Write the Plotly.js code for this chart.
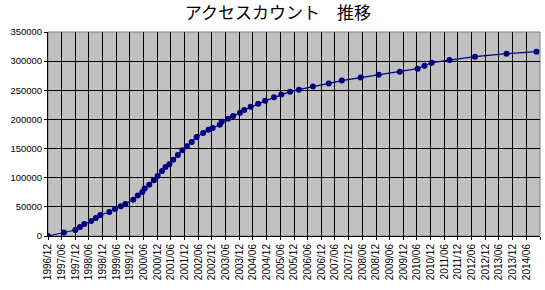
<!DOCTYPE html>
<html>
<head>
<meta charset="utf-8">
<script src="https://cdn.plot.ly/plotly-3.0.1.min.js"></script>
<style>html,body{margin:0;padding:0;background:#fff;}#chart{width:545px;height:290px;}</style>
</head>
<body>
<div id="chart"></div>
<script>
const dates = ["1996-12-01","1997-07-01","1997-12-01","1998-02-01","1998-04-01","1998-07-01","1998-09-01","1998-11-01",
"1999-03-01","1999-05-15","1999-08-01","1999-10-01","2000-01-15","2000-03-15","2000-05-15","2000-06-15","2000-08-15",
"2000-10-15","2000-12-05","2001-02-01","2001-03-20","2001-05-10","2001-07-01","2001-09-01","2001-11-01","2002-01-01",
"2002-03-05","2002-05-10","2002-08-05","2002-10-15","2002-12-10","2003-03-15","2003-04-10","2003-07-05","2003-09-10",
"2003-12-10","2004-02-05","2004-05-01","2004-08-10","2004-11-10","2005-03-10","2005-06-15","2005-10-10","2006-02-05",
"2006-08-10","2007-03-10","2007-09-01","2008-05-10","2009-01-05","2009-10-15","2010-06-10","2010-09-10","2010-12-15",
"2011-08-10","2012-07-15","2013-09-10","2014-10-15"];
const counts = [0,5800,10300,15400,20600,25700,30900,36000,
41200,46300,50900,54900,62400,69300,75500,81300,88100,
95500,102900,111500,118300,123000,131000,139000,147000,153800,
161200,169800,176600,182500,185200,190700,195900,201000,205800,
211300,216100,221600,226700,231900,237900,242700,247700,251100,
256400,261500,266700,271800,276500,281900,287100,292200,297400,
301800,307700,312800,316200];
const chartTitle = "アクセスカウント　推移";

const yTickFont = {family: "Liberation Sans, Arial, sans-serif", size: 9.5, color: "#000"};
const xTickFont = {family: "Liberation Sans, Arial, sans-serif", size: 10, color: "#000"};
Plotly.newPlot("chart", [{
  x: dates, y: counts, type: "scatter", mode: "lines+markers",
  line: {color: "#000080", width: 1.2},
  marker: {color: "#000080", size: 6},
  hoverinfo: "skip"
}], {
  width: 545, height: 290,
  margin: {l: 48, r: 5, t: 32, b: 54},
  paper_bgcolor: "#ffffff", plot_bgcolor: "#c0c0c0",
  showlegend: false,
  title: {text: chartTitle, font: {family: "Noto Sans CJK JP, sans-serif", size: 17, color: "#000"},
          xref: "container", yref: "container", x: 0.51, xanchor: "center", y: 0.955, yanchor: "middle"},
  xaxis: {type: "date", range: ["1996-12-01", "2014-12-01"], tick0: "1996-12-01", dtick: "M6", tickformat: "%Y/%m",
          tickangle: -90, tickfont: xTickFont, showgrid: true, gridcolor: "#000", gridwidth: 1,
          showline: true, linecolor: "#000", linewidth: 1, ticks: "outside", ticklen: 3, tickcolor: "#000", zeroline: false},
  yaxis: {range: [0, 350000], dtick: 50000, tickformat: "d", tickfont: yTickFont, showgrid: true, gridcolor: "#000", gridwidth: 1,
          showline: true, linecolor: "#000", linewidth: 1, ticks: "outside", ticklen: 3, tickcolor: "#000", zeroline: false},
  shapes: [{type: "rect", xref: "paper", yref: "paper", x0: 0, x1: 1, y0: 0, y1: 1, line: {color: "#808080", width: 1}, layer: "below"}]
}, {displayModeBar: false, staticPlot: true});
</script>
</body>
</html>
